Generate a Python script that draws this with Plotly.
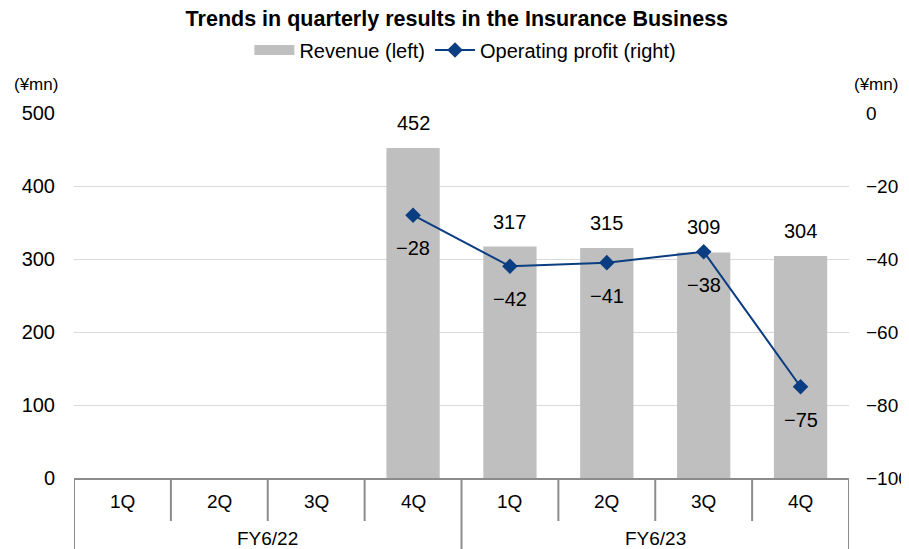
import plotly.graph_objects as go

years = ["FY6/22"] * 4 + ["FY6/23"] * 4
quarters = ["1Q", "2Q", "3Q", "4Q", "1Q", "2Q", "3Q", "4Q"]
revenue = [None, None, None, 452, 317, 315, 309, 304]
op_profit = [None, None, None, -28, -42, -41, -38, -75]
left_ticks = [0, 100, 200, 300, 400, 500]
right_ticks = [-100, -80, -60, -40, -20, 0]

FONT = "Liberation Sans, Arial, sans-serif"
BAR_COLOR = "#bfbfbf"
LINE_COLOR = "#0b3d82"
AXIS_COLOR = "#8c8c8c"

# The page body adds an 8px offset, so the figure is sized to fill the rest.
W, H = 901, 541
ML, MR, MT, MB = 66, 60, 105, 71
PLOT_H = H - MT - MB

idx = list(range(len(quarters)))

fig = go.Figure()
fig.add_trace(go.Bar(
    x=idx, y=revenue, name="Revenue (left)",
    marker=dict(color=BAR_COLOR, line=dict(width=0)), width=0.55,
    yaxis="y", showlegend=False, legendgroup="rev",
))
# legend entry for the bars, drawn as a wide grey swatch like the original
fig.add_trace(go.Scatter(
    x=[None], y=[None], name="Revenue (left)", mode="lines",
    line=dict(color=BAR_COLOR, width=11), legendgroup="rev", hoverinfo="skip",
))
fig.add_trace(go.Scatter(
    x=idx, y=op_profit, name="Operating profit (right)",
    mode="lines+markers", line=dict(color=LINE_COLOR, width=2),
    marker=dict(symbol="diamond", size=12, color=LINE_COLOR),
    yaxis="y2",
))

lab_font = dict(size=20, color="#000", family=FONT)
annotations = []
for i, v in zip(idx, revenue):
    if v is not None:
        annotations.append(dict(x=i, y=v, xref="x", yref="y", text=str(v),
                                showarrow=False, yshift=25, font=lab_font))
for i, v in zip(idx, op_profit):
    if v is not None:
        annotations.append(dict(x=i, y=v, xref="x", yref="y2",
                                text=("\u2212" if v < 0 else "") + str(abs(v)),
                                showarrow=False, yshift=-33, font=lab_font))

# category labels (inner level)
for i, q in zip(idx, quarters):
    annotations.append(dict(x=i, y=0, xref="x", yref="paper", text=q,
                            showarrow=False, yanchor="middle", yshift=-23,
                            font=dict(size=19, color="#000", family=FONT)))
# group labels (outer level)
groups = []
for i, y in zip(idx, years):
    if not groups or groups[-1][0] != y:
        groups.append([y, i, i])
    else:
        groups[-1][2] = i
for y, a, b in groups:
    annotations.append(dict(x=(a + b) / 2, y=0, xref="x", yref="paper", text=y,
                            showarrow=False, yanchor="middle", yshift=-60,
                            font=dict(size=19, color="#000", family=FONT)))

annotations += [
    dict(x=0, y=1, xref="paper", yref="paper", text="(¥mn)", showarrow=False,
         xanchor="center", xshift=-38, yshift=40,
         font=dict(size=17, family=FONT, color="#000")),
    dict(x=1, y=1, xref="paper", yref="paper", text="(¥mn)", showarrow=False,
         xanchor="center", xshift=27, yshift=40,
         font=dict(size=17, family=FONT, color="#000")),
]

shapes = []
group_starts = {a for _, a, _ in groups}
for i in idx + [len(idx)]:
    outer = (i in group_starts) or i == len(idx)
    depth = MB if outer else 43
    shapes.append(dict(type="line", xref="x", yref="paper",
                       x0=i - 0.5, x1=i - 0.5, y0=0, y1=-depth / PLOT_H,
                       line=dict(color=AXIS_COLOR, width=2), layer="above"))

fig.update_layout(
    template="none",
    width=W, height=H,
    margin=dict(l=ML, r=MR, t=MT, b=MB, autoexpand=False),
    paper_bgcolor="white", plot_bgcolor="white",
    font=dict(family=FONT, size=20, color="#000"),
    title=dict(text="<b>Trends in quarterly results in the Insurance Business</b>",
               x=0.494, xanchor="center", xref="paper", y=1 - 10 / H, yanchor="middle",
               yref="container",
               font=dict(size=21.5, family=FONT, color="#000")),
    legend=dict(orientation="h", x=0.505, xanchor="center", y=1 - 42 / H,
                yanchor="middle", yref="container",
                font=dict(size=20, family=FONT), bgcolor="rgba(0,0,0,0)",
                traceorder="normal", itemwidth=40),
    showlegend=True,
    xaxis=dict(range=[-0.5, len(idx) - 0.5], showline=True, linecolor=AXIS_COLOR,
               linewidth=2, showticklabels=False, ticks="", showgrid=False,
               zeroline=False, automargin=False, fixedrange=True),
    yaxis=dict(range=[0, 500], tickvals=left_ticks, showgrid=True, gridcolor="#d9d9d9",
               gridwidth=1, zeroline=False, showline=False, ticks="",
               tickfont=dict(size=20, family=FONT), ticklabelstandoff=18,
               automargin=False),
    yaxis2=dict(range=[-100, 0], tickvals=right_ticks,
                ticktext=[("\u2212" if t < 0 else "") + str(abs(t)) for t in right_ticks],
                overlaying="y", side="right",
                showgrid=False, zeroline=False, showline=False, ticks="",
                tickfont=dict(size=19, family=FONT), ticklabelstandoff=16,
                automargin=False),
    annotations=annotations,
    shapes=shapes,
)

fig.write_html("out.html")
